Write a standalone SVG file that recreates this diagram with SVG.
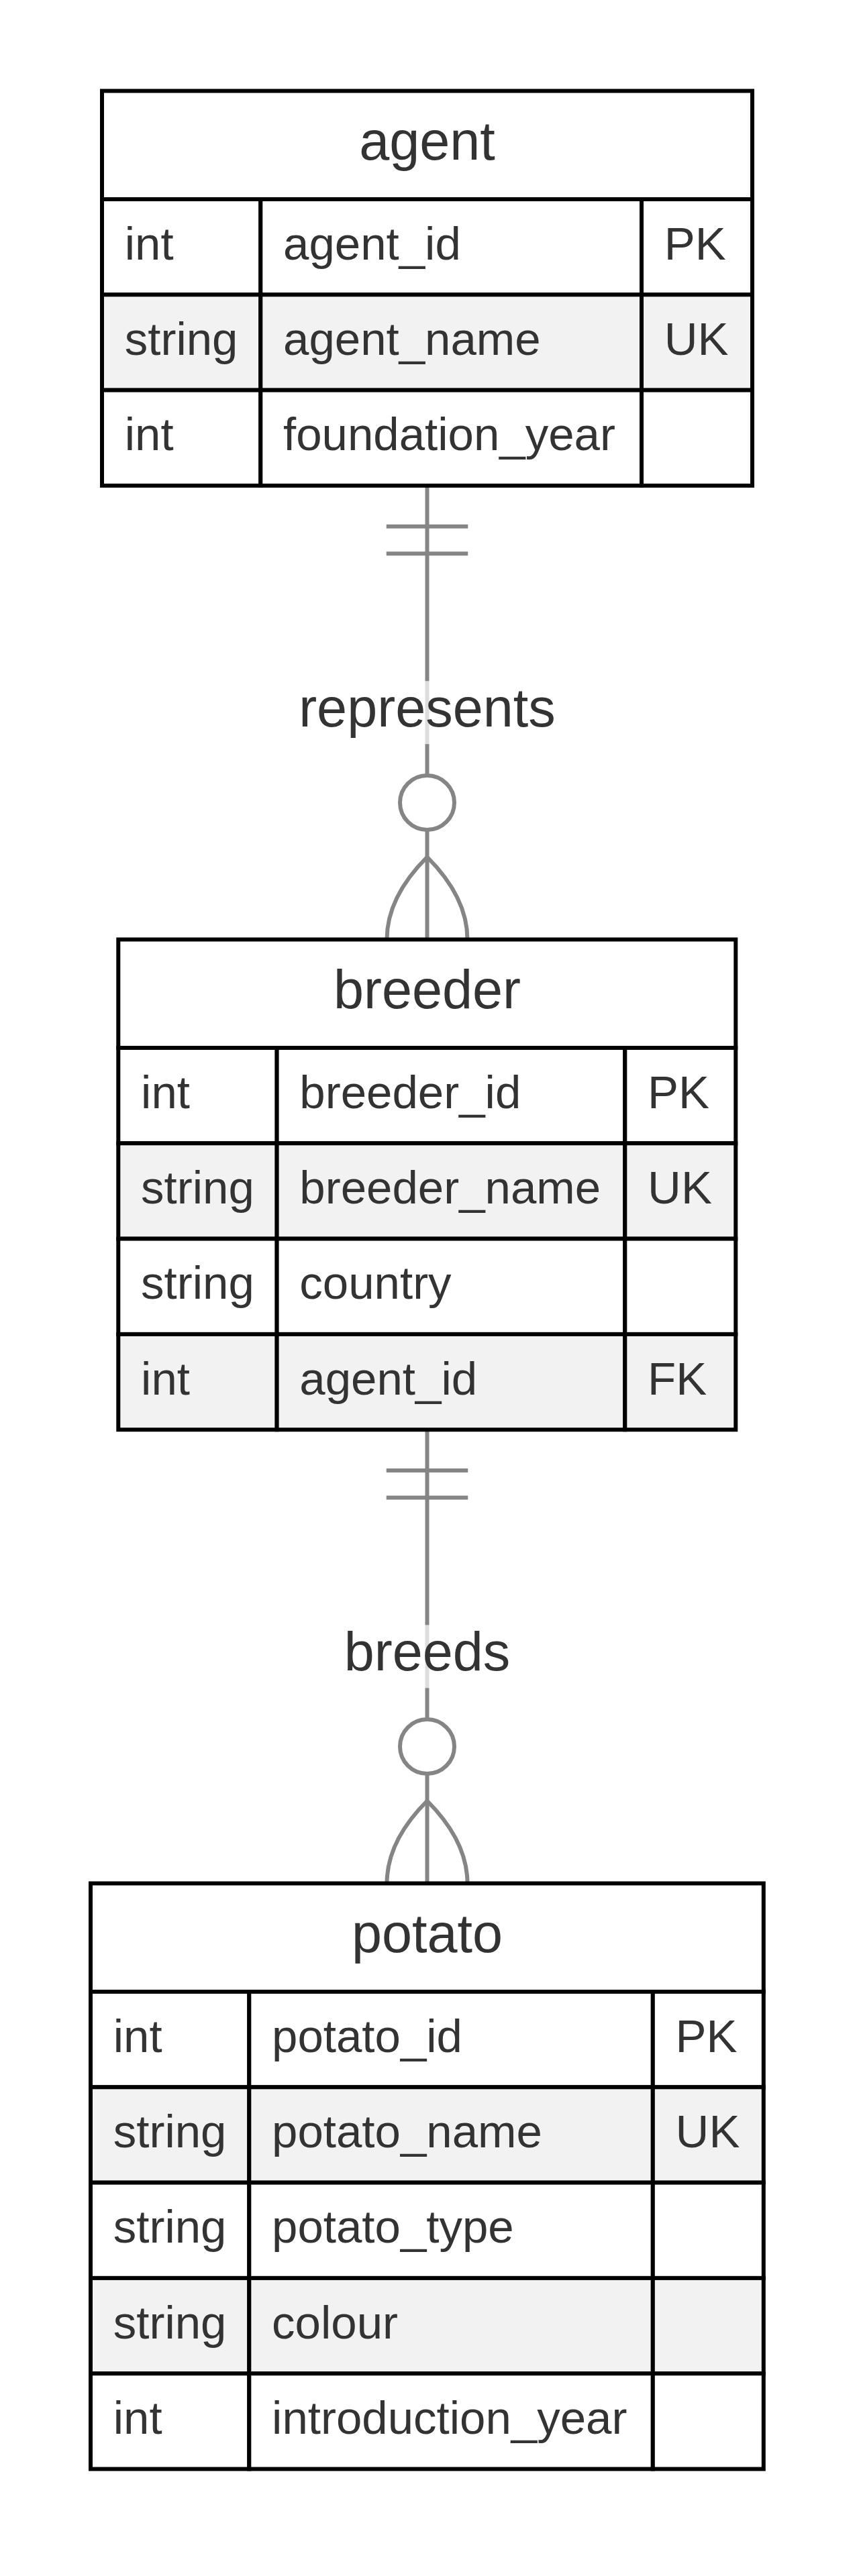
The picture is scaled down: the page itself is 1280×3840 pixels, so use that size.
<svg xmlns="http://www.w3.org/2000/svg" width="1280" height="3840" viewBox="0 0 1280 3840">
<style>
.bg{fill:#ffffff}
.cell{stroke:#000000;stroke-width:6}
.odd{fill:#ffffff}
.even{fill:#f2f2f2}
.hdr{fill:#ffffff;stroke:#000000;stroke-width:6}
.title{font-family:"Liberation Sans",Arial,sans-serif;font-size:81px;fill:#333333;text-anchor:middle}
.attr{font-family:"Liberation Sans",Arial,sans-serif;font-size:69px;fill:#333333}
.rel{stroke:#858585;stroke-width:6;fill:none}
.relc{stroke:#858585;stroke-width:6;fill:#ffffff}
.lblbg{fill:#ffffff;fill-opacity:0.72}
.lbl{font-family:"Liberation Sans",Arial,sans-serif;font-size:81px;fill:#333333;text-anchor:middle}
</style>
<rect class="bg" x="0" y="0" width="1280" height="3840"/>

<g id="connectors">
  <g id="rel-represents">
    <line class="rel" x1="636.5" y1="723.9" x2="636.5" y2="1400.5"/>
    <line class="rel" x1="575.75" y1="784.65" x2="697.25" y2="784.65"/>
    <line class="rel" x1="575.75" y1="825.15" x2="697.25" y2="825.15"/>
    <circle class="relc" cx="636.5" cy="1196.5" r="40.5"/>
    <path class="rel" d="M576.5,1400.5 Q576.5,1337.5 636.5,1277.5 Q696.5,1337.5 696.5,1400.5"/>
    <rect class="lblbg" x="445" y="1015.2" width="383" height="94"/>
    <text class="lbl" x="636.5" y="1082.9">represents</text>
  </g>
  <g id="rel-breeds">
    <line class="rel" x1="636.5" y1="2131.2" x2="636.5" y2="2807.5"/>
    <line class="rel" x1="575.75" y1="2191.95" x2="697.25" y2="2191.95"/>
    <line class="rel" x1="575.75" y1="2232.45" x2="697.25" y2="2232.45"/>
    <circle class="relc" cx="636.5" cy="2603.5" r="40.5"/>
    <path class="rel" d="M576.5,2807.5 Q576.5,2744.5 636.5,2684.5 Q696.5,2744.5 696.5,2807.5"/>
    <rect class="lblbg" x="518" y="2422.35" width="237" height="94"/>
    <text class="lbl" x="636.5" y="2490">breeds</text>
  </g>
</g>

<g id="agent">
  <rect class="hdr" x="152" y="135.5" width="969" height="161.5"/>
  <text class="title" x="636.5" y="237.55">agent</text>
  <rect class="cell odd" x="152" y="297" width="236.3" height="142.3"/>
  <rect class="cell odd" x="388.3" y="297" width="567.7" height="142.3"/>
  <rect class="cell odd" x="956" y="297" width="165" height="142.3"/>
  <rect class="cell even" x="152" y="439.3" width="236.3" height="142.3"/>
  <rect class="cell even" x="388.3" y="439.3" width="567.7" height="142.3"/>
  <rect class="cell even" x="956" y="439.3" width="165" height="142.3"/>
  <rect class="cell odd" x="152" y="581.6" width="236.3" height="142.3"/>
  <rect class="cell odd" x="388.3" y="581.6" width="567.7" height="142.3"/>
  <rect class="cell odd" x="956" y="581.6" width="165" height="142.3"/>
  <text class="attr" x="185.75" y="386.85">int</text>
  <text class="attr" x="422.05" y="386.85">agent_id</text>
  <text class="attr" x="989.75" y="386.85">PK</text>
  <text class="attr" x="185.75" y="529.15">string</text>
  <text class="attr" x="422.05" y="529.15">agent_name</text>
  <text class="attr" x="989.75" y="529.15">UK</text>
  <text class="attr" x="185.75" y="671.45">int</text>
  <text class="attr" x="422.05" y="671.45">foundation_year</text>
</g>

<g id="breeder">
  <rect class="hdr" x="176.3" y="1400.5" width="920" height="161.5"/>
  <text class="title" x="636.5" y="1502.55">breeder</text>
  <rect class="cell odd" x="176.3" y="1562" width="236.3" height="142.3"/>
  <rect class="cell odd" x="412.6" y="1562" width="518.7" height="142.3"/>
  <rect class="cell odd" x="931.3" y="1562" width="165" height="142.3"/>
  <rect class="cell even" x="176.3" y="1704.3" width="236.3" height="142.3"/>
  <rect class="cell even" x="412.6" y="1704.3" width="518.7" height="142.3"/>
  <rect class="cell even" x="931.3" y="1704.3" width="165" height="142.3"/>
  <rect class="cell odd" x="176.3" y="1846.6" width="236.3" height="142.3"/>
  <rect class="cell odd" x="412.6" y="1846.6" width="518.7" height="142.3"/>
  <rect class="cell odd" x="931.3" y="1846.6" width="165" height="142.3"/>
  <rect class="cell even" x="176.3" y="1988.9" width="236.3" height="142.3"/>
  <rect class="cell even" x="412.6" y="1988.9" width="518.7" height="142.3"/>
  <rect class="cell even" x="931.3" y="1988.9" width="165" height="142.3"/>
  <text class="attr" x="210.05" y="1651.85">int</text>
  <text class="attr" x="446.35" y="1651.85">breeder_id</text>
  <text class="attr" x="965.05" y="1651.85">PK</text>
  <text class="attr" x="210.05" y="1794.15">string</text>
  <text class="attr" x="446.35" y="1794.15">breeder_name</text>
  <text class="attr" x="965.05" y="1794.15">UK</text>
  <text class="attr" x="210.05" y="1936.45">string</text>
  <text class="attr" x="446.35" y="1936.45">country</text>
  <text class="attr" x="210.05" y="2078.75">int</text>
  <text class="attr" x="446.35" y="2078.75">agent_id</text>
  <text class="attr" x="965.05" y="2078.75">FK</text>
</g>

<g id="potato">
  <rect class="hdr" x="135" y="2807.5" width="1002.8" height="161.5"/>
  <text class="title" x="636.5" y="2909.55">potato</text>
  <rect class="cell odd" x="135" y="2969" width="236.3" height="142.3"/>
  <rect class="cell odd" x="371.3" y="2969" width="601.5" height="142.3"/>
  <rect class="cell odd" x="972.8" y="2969" width="165" height="142.3"/>
  <rect class="cell even" x="135" y="3111.3" width="236.3" height="142.3"/>
  <rect class="cell even" x="371.3" y="3111.3" width="601.5" height="142.3"/>
  <rect class="cell even" x="972.8" y="3111.3" width="165" height="142.3"/>
  <rect class="cell odd" x="135" y="3253.6" width="236.3" height="142.3"/>
  <rect class="cell odd" x="371.3" y="3253.6" width="601.5" height="142.3"/>
  <rect class="cell odd" x="972.8" y="3253.6" width="165" height="142.3"/>
  <rect class="cell even" x="135" y="3395.9" width="236.3" height="142.3"/>
  <rect class="cell even" x="371.3" y="3395.9" width="601.5" height="142.3"/>
  <rect class="cell even" x="972.8" y="3395.9" width="165" height="142.3"/>
  <rect class="cell odd" x="135" y="3538.2" width="236.3" height="142.3"/>
  <rect class="cell odd" x="371.3" y="3538.2" width="601.5" height="142.3"/>
  <rect class="cell odd" x="972.8" y="3538.2" width="165" height="142.3"/>
  <text class="attr" x="168.75" y="3058.85">int</text>
  <text class="attr" x="405.05" y="3058.85">potato_id</text>
  <text class="attr" x="1006.55" y="3058.85">PK</text>
  <text class="attr" x="168.75" y="3201.15">string</text>
  <text class="attr" x="405.05" y="3201.15">potato_name</text>
  <text class="attr" x="1006.55" y="3201.15">UK</text>
  <text class="attr" x="168.75" y="3343.45">string</text>
  <text class="attr" x="405.05" y="3343.45">potato_type</text>
  <text class="attr" x="168.75" y="3485.75">string</text>
  <text class="attr" x="405.05" y="3485.75">colour</text>
  <text class="attr" x="168.75" y="3628.05">int</text>
  <text class="attr" x="405.05" y="3628.05">introduction_year</text>
</g>
</svg>
